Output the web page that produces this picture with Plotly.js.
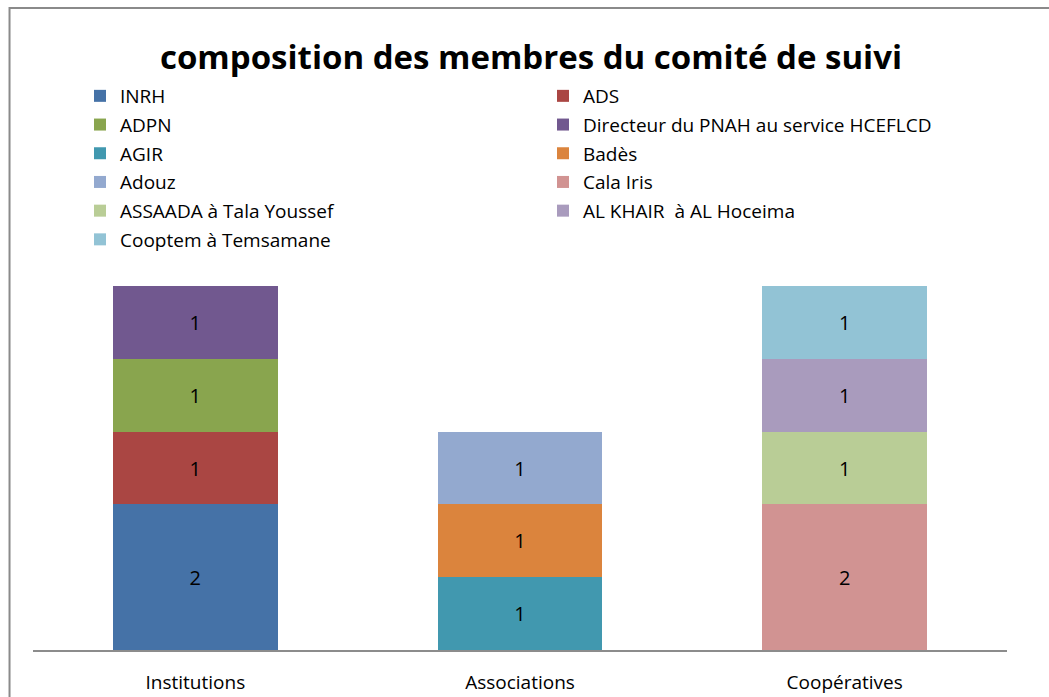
<!DOCTYPE html>
<html>
<head>
<meta charset="utf-8">
<script src="https://cdn.plot.ly/plotly-3.0.1.min.js"></script>
<style>html,body{margin:0;padding:0;background:#fff;}#chart{width:1049px;height:697px;}</style>
</head>
<body>
<div id="chart"></div>
<script>
const categories = ["Institutions", "Associations", "Coopératives"];
const seriesNames = ["INRH", "ADS", "ADPN", "Directeur du PNAH au service HCEFLCD", "AGIR", "Badès", "Adouz", "Cala Iris", "ASSAADA à Tala Youssef", "AL KHAIR  à AL Hoceima", "Cooptem à Temsamane"];
const INRH = [2, null, null];
const ADS = [1, null, null];
const ADPN = [1, null, null];
const Directeur = [1, null, null];
const AGIR = [null, 1, null];
const Bades = [null, 1, null];
const Adouz = [null, 1, null];
const CalaIris = [null, null, 2];
const ASSAADA = [null, null, 1];
const ALKHAIR = [null, null, 1];
const Cooptem = [null, null, 1];
const seriesValues = [INRH, ADS, ADPN, Directeur, AGIR, Bades, Adouz, CalaIris, ASSAADA, ALKHAIR, Cooptem];
const colors = ["#4572A7", "#AA4643", "#89A54E", "#71588F", "#4198AF", "#DB843D", "#93A9CF", "#D19392", "#B9CD96", "#A99BBD", "#92C3D5"];
const legendOf = ["legend", "legend2", "legend", "legend2", "legend", "legend2", "legend", "legend2", "legend", "legend2", "legend"];

const FONT = "Open Sans, Noto Sans, sans-serif";
const traces = seriesNames.map((name, i) => ({
  type: "bar",
  name: name,
  x: categories,
  y: seriesValues[i],
  marker: {color: colors[i], line: {width: 0}},
  text: seriesValues[i].map(v => v == null ? "" : String(v)),
  textposition: "inside",
  insidetextanchor: "middle",
  textfont: {color: "#000", size: 20, family: FONT},
  legend: legendOf[i],
  legendgroup: "g" + i,
  hoverinfo: "skip"
}));

const L = 32.5, W = 975;
const px = v => (v - L) / W;
const T = 286, H = 364;
const py = v => 1 - (v - T) / H;

const layout = {
  width: 1049, height: 697,
  margin: {l: L, r: 1049 - L - W, t: T, b: 697 - T - H, autoexpand: false},
  paper_bgcolor: "#fff", plot_bgcolor: "#fff",
  barmode: "stack",
  bargap: 0.492,
  showlegend: true,
  font: {family: FONT, color: "#000"},
  title: {text: "<b>composition des membres du comité de suivi</b>", font: {size: 33, family: FONT, color: "#000"},
    x: 531 / 1049, xanchor: "center", xref: "container", y: 1 - 57 / 697, yanchor: "middle", yref: "container"},
  xaxis: {showline: true, linecolor: "#8c8c8c", linewidth: 1.5, showgrid: false, zeroline: false, automargin: false,
    ticks: "outside", ticklen: 15, tickcolor: "rgba(0,0,0,0)", tickangle: 0, tickfont: {size: 19, family: FONT, color: "#000"}, fixedrange: true},
  yaxis: {range: [0, 5], visible: false, showgrid: false, zeroline: false, fixedrange: true},
  legend: {xref: "container", yref: "container", x: 80 / 1049, y: 1 - 77 / 697, xanchor: "left", yanchor: "top",
    orientation: "v", traceorder: "grouped", tracegroupgap: 1, font: {size: 19, family: FONT, color: "#000"}, bgcolor: "rgba(0,0,0,0)"},
  legend2: {xref: "container", yref: "container", x: 543 / 1049, y: 1 - 77 / 697, xanchor: "left", yanchor: "top",
    orientation: "v", traceorder: "grouped", tracegroupgap: 1, font: {size: 19, family: FONT, color: "#000"}, bgcolor: "rgba(0,0,0,0)"},
  shapes: [
    {type: "rect", xref: "paper", yref: "paper", x0: px(9), x1: px(1070), y0: py(8), y1: py(720),
     line: {color: "#8a8a8a", width: 2}, fillcolor: "rgba(0,0,0,0)", layer: "below"}
  ]
};

Plotly.newPlot("chart", traces, layout, {displayModeBar: false, staticPlot: true});
</script>
</body>
</html>
